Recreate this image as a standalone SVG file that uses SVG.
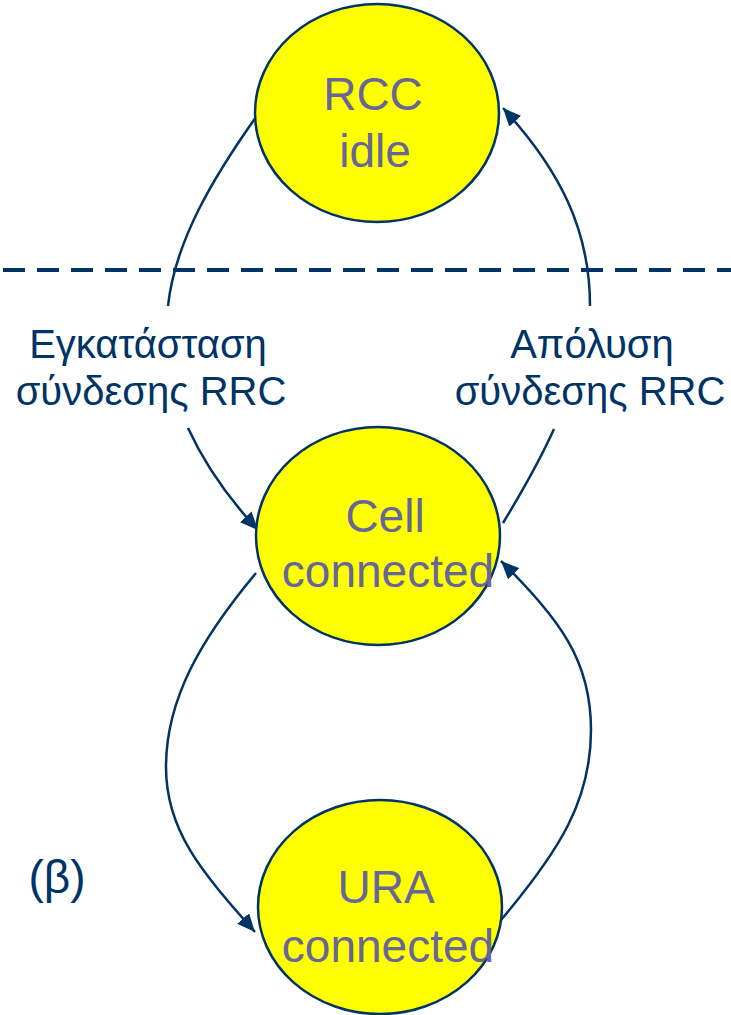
<svg xmlns="http://www.w3.org/2000/svg" width="731" height="1015" viewBox="0 0 731 1015">
  <style>
    .state ellipse { fill: #FFFF00; stroke: #003366; stroke-width: 2.5; }
    .state text { font-family: "Liberation Sans", "DejaVu Sans", sans-serif; font-size: 46px; fill: #666699; text-anchor: middle; }
    .label text { font-family: "Liberation Sans", "DejaVu Sans", sans-serif; font-size: 40px; fill: #003366; text-anchor: middle; }
    .edge { fill: none; stroke: #003366; stroke-width: 2.5; }
  </style>
  <defs>
    <marker id="arrow" markerUnits="userSpaceOnUse" markerWidth="20" markerHeight="16" refX="18" refY="8" orient="auto">
      <path d="M0,0 L18,8 L0,16 Z" fill="#003366"/>
    </marker>
  </defs>
  <rect width="731" height="1015" fill="#FFFFFF"/>

  <line x1="3" y1="270" x2="731" y2="270" stroke="#003366" stroke-width="4" stroke-dasharray="22 12"/>

  <g id="connectors">
    <path class="edge" d="M256,117 C215,175 175,240 168,306"/>
    <path class="edge" d="M188,428 C205,465 230,500 258,530" marker-end="url(#arrow)"/>
    <path class="edge" d="M554,429 C540,460 520,495 503,523"/>
    <path class="edge" d="M590,306 C590,230 560,170 503,108" marker-end="url(#arrow)"/>
    <path class="edge" d="M256,573 C200,640 166,700 166,767 C166,830 200,870 255,932" marker-end="url(#arrow)"/>
    <path class="edge" d="M501,920 C560,850 591,800 591,730 C591,660 560,620 501,561" marker-end="url(#arrow)"/>
  </g>

  <g id="rcc-idle" class="state">
    <ellipse cx="377" cy="113" rx="122" ry="109"/>
    <text x="373" y="110">RCC</text>
    <text x="375" y="167">idle</text>
  </g>

  <g id="cell-connected" class="state">
    <ellipse cx="378" cy="536" rx="122" ry="109"/>
    <text x="385" y="532">Cell</text>
    <text x="388" y="587">connected</text>
  </g>

  <g id="ura-connected" class="state">
    <ellipse cx="380" cy="907" rx="122" ry="107"/>
    <text x="386" y="903">URA</text>
    <text x="388" y="962">connected</text>
  </g>

  <g id="label-establish" class="label">
    <text x="148" y="358">Εγκατάσταση</text>
    <text x="151" y="405">σύνδεσης RRC</text>
  </g>

  <g id="label-release" class="label">
    <text x="592" y="358">Απόλυση</text>
    <text x="590" y="405">σύνδεσης RRC</text>
  </g>

  <g id="label-beta" class="label">
    <text x="57" y="893" style="font-size:46px">(β)</text>
  </g>
</svg>
